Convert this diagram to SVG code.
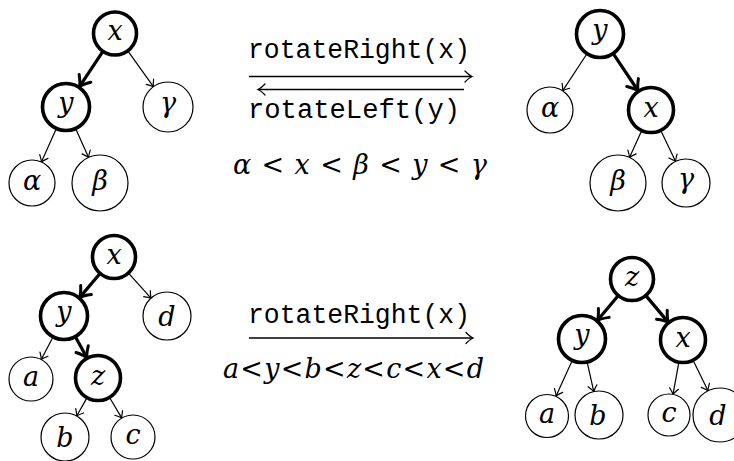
<svg xmlns="http://www.w3.org/2000/svg" width="734" height="461" viewBox="0 0 734 461">
<style>
.n{fill:#fff;stroke:#000;stroke-width:1.2}
.k{fill:#fff;stroke:#000;stroke-width:3.6}
.t{font-style:italic;font-size:27px;text-anchor:middle;fill:#000}
.m{font-size:27px;fill:#000}
.f{font-size:27px;fill:#000}
.i{font-style:italic}
.e{stroke:#000;stroke-width:1.2;fill:none;marker-end:url(#ah)}
.E{stroke:#000;stroke-width:3.2;fill:none;marker-end:url(#AH)}
.L{stroke:#000;stroke-width:1.3;fill:none}
</style>
<defs>
<marker id="ah" markerUnits="userSpaceOnUse" markerWidth="20" markerHeight="20" refX="0" refY="0" viewBox="-10 -10 20 20" orient="auto" overflow="visible">
<path d="M-6,-4.5 Q-2,-1 0,0 Q-2,1 -6,4.5" fill="none" stroke="#000" stroke-width="1.2" stroke-linecap="round"/>
</marker>
<marker id="AH" markerUnits="userSpaceOnUse" markerWidth="30" markerHeight="30" refX="0" refY="0" viewBox="-15 -15 30 30" orient="auto" overflow="visible">
<path d="M-9,-7 Q-3,-1.5 1,0 Q-3,1.5 -9,7" fill="none" stroke="#000" stroke-width="3" stroke-linecap="round"/>
</marker>
<marker id="lh" markerUnits="userSpaceOnUse" markerWidth="20" markerHeight="20" refX="0" refY="0" viewBox="-10 -10 20 20" orient="auto" overflow="visible">
<path d="M-7,-5.5 Q-2.5,-1 0,0 Q-2.5,1 -7,5.5" fill="none" stroke="#000" stroke-width="1.3" stroke-linecap="round"/>
</marker>
</defs>

<g id="connectors">
<line class="E" x1="102.9" y1="51.3" x2="80" y2="85.8"/>
<line class="e" x1="127.8" y1="50.9" x2="153.4" y2="86.7"/>
<line class="e" x1="56.2" y1="128.9" x2="41.4" y2="162"/>
<line class="e" x1="75.8" y1="128.9" x2="88.6" y2="157.5"/>
<line class="e" x1="586.8" y1="54" x2="562.6" y2="90.8"/>
<line class="E" x1="613.4" y1="53.9" x2="637.6" y2="90"/>
<line class="e" x1="641.5" y1="131" x2="629.5" y2="157.5"/>
<line class="e" x1="660.9" y1="130.7" x2="675.6" y2="161.4"/>
<line class="E" x1="99.8" y1="273.8" x2="80.2" y2="296.9"/>
<line class="e" x1="128.7" y1="273.4" x2="151" y2="298.1"/>
<line class="e" x1="52.9" y1="337.3" x2="41.2" y2="359.5"/>
<line class="E" x1="75.5" y1="337" x2="86.5" y2="357"/>
<line class="e" x1="86.8" y1="398.1" x2="76.7" y2="416"/>
<line class="e" x1="109.7" y1="397.8" x2="121.8" y2="418.1"/>
<line class="E" x1="617.9" y1="295.9" x2="598" y2="319.8"/>
<line class="E" x1="646.1" y1="295.9" x2="667.7" y2="321.6"/>
<line class="e" x1="572.1" y1="360.8" x2="556.1" y2="396"/>
<line class="e" x1="587.2" y1="362.4" x2="593.8" y2="391.6"/>
<line class="e" x1="678.8" y1="362.6" x2="673" y2="394.4"/>
<line class="e" x1="693.2" y1="360.6" x2="708" y2="390.8"/>
<line class="L" x1="249" y1="76.5" x2="472" y2="76.5" marker-end="url(#lh)"/>
<line class="L" x1="464" y1="89.5" x2="258" y2="89.5" marker-end="url(#lh)"/>
<line class="L" x1="249" y1="338" x2="473" y2="338" marker-end="url(#lh)"/>
</g>

<g font-family="DejaVu Serif, Liberation Serif, serif">
<g id="tl-x"><circle class="k" cx="115" cy="33.5" r="21.5"/><text class="t" x="115" y="40">x</text></g>
<g id="tl-y"><circle class="k" cx="66" cy="107" r="23.5"/><text class="t" x="66" y="112">y</text></g>
<g id="tl-gamma"><circle class="n" cx="168" cy="107" r="25"/><text class="t" x="168" y="112">γ</text></g>
<g id="tl-alpha"><circle class="n" cx="32" cy="183" r="23"/><text class="t" x="32" y="189.5">α</text></g>
<g id="tl-beta"><circle class="n" cx="100" cy="183" r="28"/><text class="t" x="100" y="190">β</text></g>

<g id="tr-y"><circle class="k" cx="600" cy="34" r="23.5"/><text class="t" x="600" y="39">y</text></g>
<g id="tr-alpha"><circle class="n" cx="550" cy="110" r="23"/><text class="t" x="550" y="116.5">α</text></g>
<g id="tr-x"><circle class="k" cx="651" cy="110" r="22.5"/><text class="t" x="651" y="116.5">x</text></g>
<g id="tr-beta"><circle class="n" cx="618" cy="183" r="28"/><text class="t" x="618" y="190">β</text></g>
<g id="tr-gamma"><circle class="n" cx="686" cy="183" r="24"/><text class="t" x="686" y="188">γ</text></g>

<g id="bl-x"><circle class="k" cx="114" cy="257" r="21.5"/><text class="t" x="114" y="263.5">x</text></g>
<g id="bl-y"><circle class="k" cx="64" cy="316" r="23.5"/><text class="t" x="64" y="321">y</text></g>
<g id="bl-d"><circle class="n" cx="167" cy="316" r="24"/><text class="t" x="167" y="326">d</text></g>
<g id="bl-a"><circle class="n" cx="31" cy="379" r="22"/><text class="t" x="31" y="385.5">a</text></g>
<g id="bl-z"><circle class="k" cx="98" cy="378" r="22.5"/><text class="t" x="98" y="384.5">z</text></g>
<g id="bl-b"><circle class="n" cx="65" cy="437" r="24"/><text class="t" x="65" y="447">b</text></g>
<g id="bl-c"><circle class="n" cx="133" cy="437" r="22"/><text class="t" x="133" y="443.5">c</text></g>

<g id="br-z"><circle class="k" cx="632" cy="279" r="21.5"/><text class="t" x="632" y="285.5">z</text></g>
<g id="br-y"><circle class="k" cx="582" cy="339" r="23.5"/><text class="t" x="582" y="344">y</text></g>
<g id="br-x"><circle class="k" cx="683" cy="340" r="22.5"/><text class="t" x="683" y="346.5">x</text></g>
<g id="br-a"><circle class="n" cx="547" cy="416" r="21.5"/><text class="t" x="547" y="422.5">a</text></g>
<g id="br-b"><circle class="n" cx="599" cy="415" r="24"/><text class="t" x="598" y="425">b</text></g>
<g id="br-c"><circle class="n" cx="669" cy="415" r="21"/><text class="t" x="669" y="421.5">c</text></g>
<g id="br-d"><circle class="n" cx="720" cy="415" r="27"/><text class="t" x="718" y="425">d</text></g>

<g id="labels">
<text class="f" x="233" y="174" textLength="254" lengthAdjust="spacing"><tspan class="i">α</tspan> &lt; <tspan class="i">x</tspan> &lt; <tspan class="i">β</tspan> &lt; <tspan class="i">y</tspan> &lt; <tspan class="i">γ</tspan></text>
<text class="f" x="223" y="378" textLength="261" lengthAdjust="spacing"><tspan class="i">a</tspan>&lt;<tspan class="i">y</tspan>&lt;<tspan class="i">b</tspan>&lt;<tspan class="i">z</tspan>&lt;<tspan class="i">c</tspan>&lt;<tspan class="i">x</tspan>&lt;<tspan class="i">d</tspan></text>
</g>
</g>
<g id="mono-labels" font-family="Liberation Mono, DejaVu Sans Mono, monospace">
<text class="m" x="248" y="58" textLength="222" lengthAdjust="spacingAndGlyphs">rotateRight(x)</text>
<text class="m" x="248" y="118" textLength="212" lengthAdjust="spacingAndGlyphs">rotateLeft(y)</text>
<text class="m" x="248" y="323" textLength="222" lengthAdjust="spacingAndGlyphs">rotateRight(x)</text>
</g>
</svg>
